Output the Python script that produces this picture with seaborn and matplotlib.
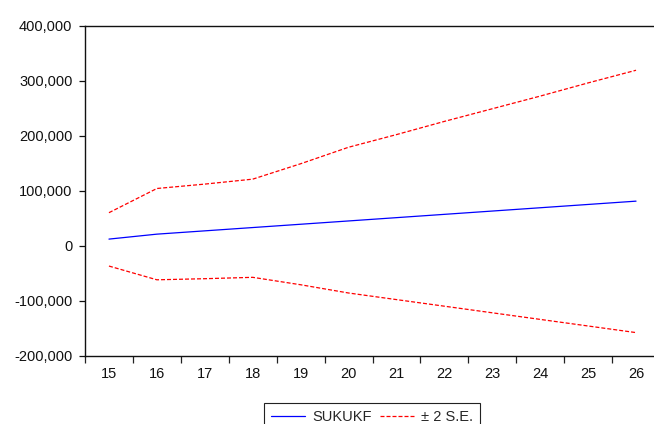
#!/usr/bin/env python3
# -*- coding: utf-8 -*-

"""
SUKUKF の予測値と ±2 標準誤差バンド (EViews 風のグラフ)
"""

import numpy as np
import pandas as pd
import matplotlib
matplotlib.use("Agg")
import matplotlib.pyplot as plt
from matplotlib.ticker import FuncFormatter, FixedLocator
import seaborn as sns

# データ
periods = [15, 16, 17, 18, 19, 20, 21, 22, 23, 24, 25, 26]
forecast = [12000, 21000, 27000, 33000, 39000, 45000, 51000, 57000, 63000, 69000, 75000, 81000]
upper_band = [60000, 104000, 112000, 121000, 149000, 179000, 202000, 226000, 249000, 272000, 296000, 319000]
lower_band = [-37000, -62000, -60000, -57500, -71000, -86000, -98000, -110000, -122000, -134000, -146000, -158000]

y_ticks = [-200000, -100000, 0, 100000, 200000, 300000, 400000]

W, H = 654, 424
FS = 10.5


def main():
    sns.set_style("ticks")
    plt.rcParams['font.family'] = ['Liberation Sans', 'DejaVu Sans']

    df = pd.DataFrame({
        "period": periods,
        "SUKUKF": forecast,
        "upper": upper_band,
        "lower": lower_band,
    })

    fig = plt.figure(figsize=(W / 100, H / 100), dpi=100)
    left, right = 85 / W, 660 / W
    bottom, top = 1 - 355.7 / H, 1 - 25.7 / H
    ax = fig.add_axes([left, bottom, right - left, top - bottom])

    sns.lineplot(data=df, x="period", y="SUKUKF", ax=ax, color="#0000FF",
                 linewidth=0.9, label="SUKUKF")
    sns.lineplot(data=df, x="period", y="upper", ax=ax, color="#FF0000",
                 linewidth=0.9, label="± 2 S.E.")
    sns.lineplot(data=df, x="period", y="lower", ax=ax, color="#FF0000",
                 linewidth=0.9, label="_nolegend_")
    for line in ax.lines[1:]:
        line.set_dashes((3.2, 1.6))

    ax.set_xlim(14.5, 26.5)
    ax.set_ylim(-200000, 400000)
    ax.set_xlabel("")
    ax.set_ylabel("")

    # x 軸: ラベルは整数位置、目盛り線は区間の境目
    ax.xaxis.set_major_locator(FixedLocator(periods))
    ax.xaxis.set_minor_locator(FixedLocator(np.arange(14.5, 27, 1.0)))
    ax.tick_params(axis="x", which="major", length=0, pad=8, labelsize=FS, colors="#111111")
    ax.tick_params(axis="x", which="minor", length=5, width=0.9, direction="out", color="#222222")

    ax.yaxis.set_major_locator(FixedLocator(y_ticks))
    ax.yaxis.set_major_formatter(FuncFormatter(lambda v, p: f"{int(v):,}"))
    ax.tick_params(axis="y", length=4, width=0.9, direction="out", pad=5,
                   labelsize=FS, colors="#111111")

    for side in ["left", "top", "bottom"]:
        ax.spines[side].set_color("#111111")
        ax.spines[side].set_linewidth(1.0)
    ax.spines["right"].set_visible(False)

    ax.legend(loc="upper center", bbox_to_anchor=(372 / W, 1 - 403 / H),
              bbox_transform=fig.transFigure, borderaxespad=0, ncol=2,
              frameon=True, fancybox=False, edgecolor="#222222", framealpha=1,
              handlelength=2.3, handletextpad=0.5, columnspacing=0.6,
              borderpad=0.5, fontsize=FS)
    leg = ax.get_legend()
    leg.get_frame().set_linewidth(0.8)

    fig.savefig("out.png", dpi=100)


if __name__ == "__main__":
    main()
